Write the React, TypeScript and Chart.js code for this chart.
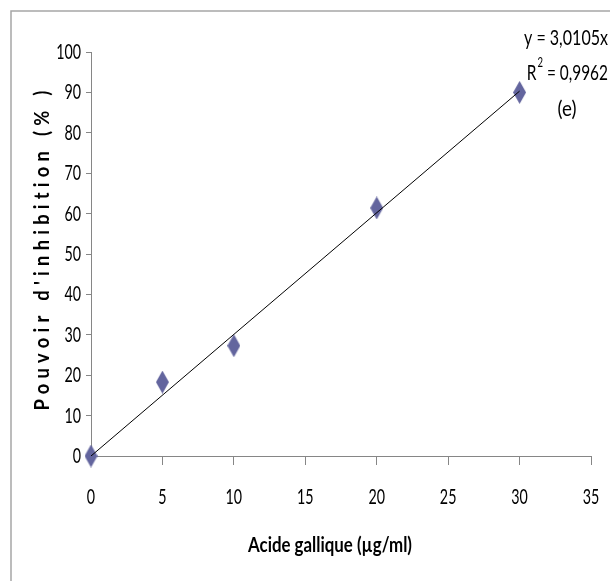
import React, { useEffect, useRef } from "react";
import { Chart, registerables } from "chart.js";

Chart.register(...registerables);

// Data
const concentrations = [0, 5, 10, 20, 30];
const inhibition = [0, 18.3, 27.3, 61.4, 90.0];
const trendX = [0, 30];
const slope = 3.0105;
const r2Text = "0,9962";
const eqText = "y = 3,0105x";
const panelLabel = "(e)";
const xTitle = "Acide gallique (µg/ml)";
const yTitle = "Pouvoir d'inhibition (% )";
const xTicks = [0, 5, 10, 15, 20, 25, 30, 35];
const yTicks = [0, 10, 20, 30, 40, 50, 60, 70, 80, 90, 100];

const FONT = 'Lato, "Noto Sans", "DejaVu Sans", sans-serif';
const MARKER = "#63659e";
const AXIS = "#868686";
const TICK_SX = 0.68;

function makeDiamond(): HTMLCanvasElement {
  const c = document.createElement("canvas");
  c.width = 13;
  c.height = 23;
  const g = c.getContext("2d")!;
  g.fillStyle = MARKER;
  g.beginPath();
  g.moveTo(6.5, 0);
  g.lineTo(13, 11.5);
  g.lineTo(6.5, 23);
  g.lineTo(0, 11.5);
  g.closePath();
  g.fill();
  return c;
}

function drawScaled(ctx: CanvasRenderingContext2D, text: string, x: number, y: number, sx: number, align: CanvasTextAlign) {
  ctx.save();
  ctx.translate(x, y);
  ctx.scale(sx, 1);
  ctx.textAlign = align;
  ctx.textBaseline = "alphabetic";
  ctx.fillText(text, 0, 0);
  ctx.restore();
}

function fitScale(ctx: CanvasRenderingContext2D, text: string, target: number) {
  return target / ctx.measureText(text).width;
}

const decorPlugin = {
  id: "decor",
  beforeDraw(chart: any) {
    const ctx = chart.ctx;
    ctx.save();
    ctx.strokeStyle = "#a6a6a6";
    ctx.lineWidth = 1.5;
    ctx.beginPath();
    ctx.moveTo(11, chart.height);
    ctx.lineTo(11, 11);
    ctx.lineTo(chart.width, 11);
    ctx.stroke();
    ctx.restore();
  },
  afterDraw(chart: any) {
    const ctx: CanvasRenderingContext2D = chart.ctx;
    const xs = chart.scales.x;
    const ys = chart.scales.y;
    ctx.save();
    ctx.fillStyle = "#000";
    // tick labels
    ctx.font = `21px ${FONT}`;
    yTicks.forEach((v) => {
      const py = ys.getPixelForValue(v);
      drawScaled(ctx, String(v), ys.right - 10, py + 7, TICK_SX, "right");
    });
    xTicks.forEach((v) => {
      const px = xs.getPixelForValue(v);
      drawScaled(ctx, String(v), px, 504, TICK_SX, "center");
    });
    // x title
    ctx.font = `bold 21px ${FONT}`;
    drawScaled(ctx, xTitle, 330, 552, fitScale(ctx, xTitle, 164), "center");
    // y title
    ctx.save();
    ctx.translate(49, 248);
    ctx.rotate(-Math.PI / 2);
    ctx.font = `bold 21px ${FONT}`;
    (ctx as any).letterSpacing = "6px";
    const sy = fitScale(ctx, yTitle, 325);
    ctx.scale(sy, 1);
    ctx.textAlign = "center";
    ctx.textBaseline = "alphabetic";
    ctx.fillText(yTitle, 0, 0);
    ctx.restore();
    (ctx as any).letterSpacing = "0px";
    // equation
    ctx.font = `21px ${FONT}`;
    drawScaled(ctx, eqText, 608, 45, fitScale(ctx, eqText, 84), "right");
    const rest = " = " + r2Text;
    const wRestU = ctx.measureText(rest).width;
    const wRU = ctx.measureText("R").width;
    ctx.font = `13px ${FONT}`;
    const w2U = ctx.measureText("2").width;
    const s2 = 81 / (wRestU + wRU + w2U + 1);
    const wRest = wRestU * s2;
    const w2 = w2U * s2;
    ctx.font = `21px ${FONT}`;
    drawScaled(ctx, rest, 608, 80, s2, "right");
    drawScaled(ctx, "R", 608 - wRest - w2 - 1, 80, s2, "right");
    ctx.font = `13px ${FONT}`;
    drawScaled(ctx, "2", 608 - wRest, 67, s2, "right");
    ctx.font = `22px ${FONT}`;
    drawScaled(ctx, panelLabel, 567, 116, fitScale(ctx, panelLabel, 19), "center");
    ctx.restore();
  },
};

export default function App() {
  const ref = useRef<HTMLCanvasElement>(null);
  useEffect(() => {
    let chart: Chart | null = null;
    let cancelled = false;
    const build = () => {
      if (cancelled || !ref.current) return;
      const diamond = makeDiamond();
      chart = new Chart(ref.current, {
        type: "scatter",
        data: {
          datasets: [
            {
              type: "line",
              data: trendX.map((x) => ({ x, y: slope * x })),
              borderColor: "#000",
              borderWidth: 1,
              pointRadius: 0,
              showLine: true,
              fill: false,
              order: 0,
            } as any,
            {
              data: concentrations.map((x, i) => ({ x, y: inhibition[i] })),
              pointStyle: diamond as any,
              pointRadius: 8,
              backgroundColor: MARKER,
              borderColor: MARKER,
              clip: false,
              order: 1,
            } as any,
          ],
        },
        options: {
          responsive: false,
          animation: false,
          devicePixelRatio: 1,
          layout: { padding: { top: 52, right: 19, left: 0, bottom: 0 } },
          plugins: { legend: { display: false }, tooltip: { enabled: false } },
          scales: {
            x: {
              type: "linear",
              min: 0,
              max: 35,
              ticks: { stepSize: 5, display: false },
              grid: { drawOnChartArea: false, drawTicks: true, tickLength: 9, color: AXIS },
              border: { color: AXIS, width: 1 },
              afterFit: (s: any) => {
                s.height = 125;
                s.paddingLeft = 0;
                s.paddingRight = 0;
              },
            },
            y: {
              type: "linear",
              min: 0,
              max: 100,
              ticks: { stepSize: 10, display: false },
              grid: { drawOnChartArea: false, drawTicks: true, tickLength: 5, color: AXIS },
              border: { color: AXIS, width: 1 },
              afterFit: (s: any) => {
                s.width = 91;
                s.paddingTop = 0;
                s.paddingBottom = 0;
              },
            },
          },
        },
        plugins: [decorPlugin],
      } as any);
    };
    const fonts = (document as any).fonts;
    if (fonts && fonts.load) {
      Promise.all([fonts.load(`20px Lato`), fonts.load(`bold 20px Lato`)]).then(build, build);
    } else build();
    return () => {
      cancelled = true;
      if (chart) chart.destroy();
    };
  }, []);
  return (
    <div style={{ position: "fixed", left: 0, top: 0, width: 610, height: 581, background: "#fff" }}>
      <canvas ref={ref} width={610} height={581} style={{ display: "block" }} />
    </div>
  );
}
